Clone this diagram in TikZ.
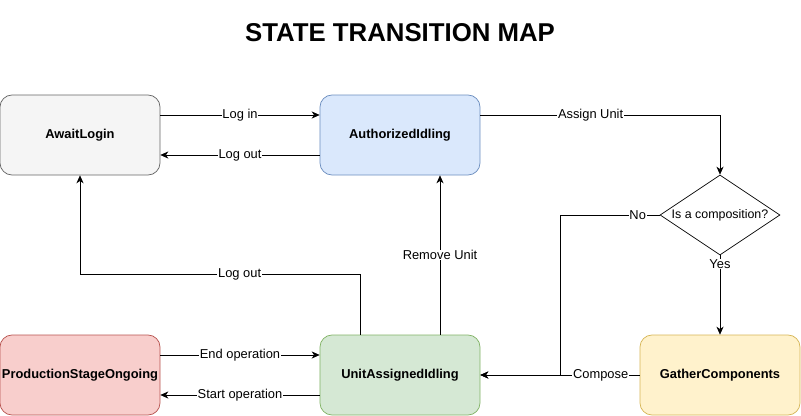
\documentclass[tikz,border=0pt]{standalone}
\usepackage{fontspec}
\setmainfont{Liberation Sans}
\usepackage{tikz}
\usetikzlibrary{arrows.meta,positioning,calc,shapes.geometric}
\definecolor{ink}{HTML}{000000}
\definecolor{greyfill}{HTML}{F5F5F5}
\definecolor{greyline}{HTML}{666666}
\definecolor{bluefill}{HTML}{DAE8FC}
\definecolor{blueline}{HTML}{6C8EBF}
\definecolor{redfill}{HTML}{F8CECC}
\definecolor{redline}{HTML}{B85450}
\definecolor{greenfill}{HTML}{D5E8D4}
\definecolor{greenline}{HTML}{82B366}
\definecolor{yellowfill}{HTML}{FFF2CC}
\definecolor{yellowline}{HTML}{D6B656}
\begin{document}
\begin{tikzpicture}[x=0.03cm,y=-0.03cm,
  state/.style={draw,rounded corners=0.36cm,line width=0.6pt,minimum width=4.8cm,
    minimum height=2.4cm,font=\fontsize{11}{13}\selectfont\bfseries,inner sep=0pt},
  decide/.style={diamond,draw=ink,line width=0.6pt,minimum width=3.6cm,minimum height=2.4cm,
    aspect=1.5,inner sep=0pt,font=\fontsize{10.6}{12}\selectfont},
  flow/.style={draw=ink,line width=0.6pt,-{Stealth[length=6.8pt,width=6pt,inset=2pt]}},
  lbl/.style={fill=white,inner sep=0.6pt,text=ink,font=\fontsize{11}{13}\selectfont}]
  \useasboundingbox (0,0) rectangle (801,416);
  \node[font=\fontsize{22}{26}\selectfont\bfseries] (title) at (400,33) {STATE TRANSITION MAP};

  \node[state,fill=greyfill,draw=greyline] (await) at (80,135) {AwaitLogin};
  \node[state,fill=bluefill,draw=blueline] (authorized) at (400,135) {AuthorizedIdling};
  \node[decide] (composition) at (720,215) {Is a composition?};
  \node[state,fill=redfill,draw=redline] (production) at (80,375) {ProductionStageOngoing};
  \node[state,fill=greenfill,draw=greenline] (assigned) at (400,375) {UnitAssignedIdling};
  \node[state,fill=yellowfill,draw=yellowline] (gather) at (720,375) {GatherComponents};
  \coordinate (nobend) at (560,215);

  \draw[flow] ([yshift=0.6cm]await.east) -- node[lbl]{Log in} ([yshift=0.6cm]authorized.west);
  \draw[flow] ([yshift=-0.6cm]authorized.west) -- node[lbl]{Log out} ([yshift=-0.6cm]await.east);
  \draw[flow] ([yshift=0.6cm]authorized.east) -| node[lbl,pos=0.23]{Assign Unit} (composition.north);
  \draw[flow] (composition.west) -- node[lbl,pos=0.22]{No} (nobend) |- (assigned.east);
  \draw[flow] (composition.south) -- node[lbl,pos=0.11]{Yes} (gather.north);
  \draw[flow] (gather.west) -- node[lbl,pos=0.245]{Compose} (assigned.east);
  \draw[flow] ([xshift=-1.2cm]assigned.north) -- ++(0,-60) -| node[lbl,pos=0.215]{Log out} (await.south);
  \draw[flow] ([xshift=1.2cm]assigned.north) -- node[lbl]{Remove Unit} ([xshift=1.2cm]authorized.south);
  \draw[flow] ([yshift=0.6cm]production.east) -- node[lbl]{End operation} ([yshift=0.6cm]assigned.west);
  \draw[flow] ([yshift=-0.6cm]assigned.west) -- node[lbl]{Start operation} ([yshift=-0.6cm]production.east);
\end{tikzpicture}
\end{document}
